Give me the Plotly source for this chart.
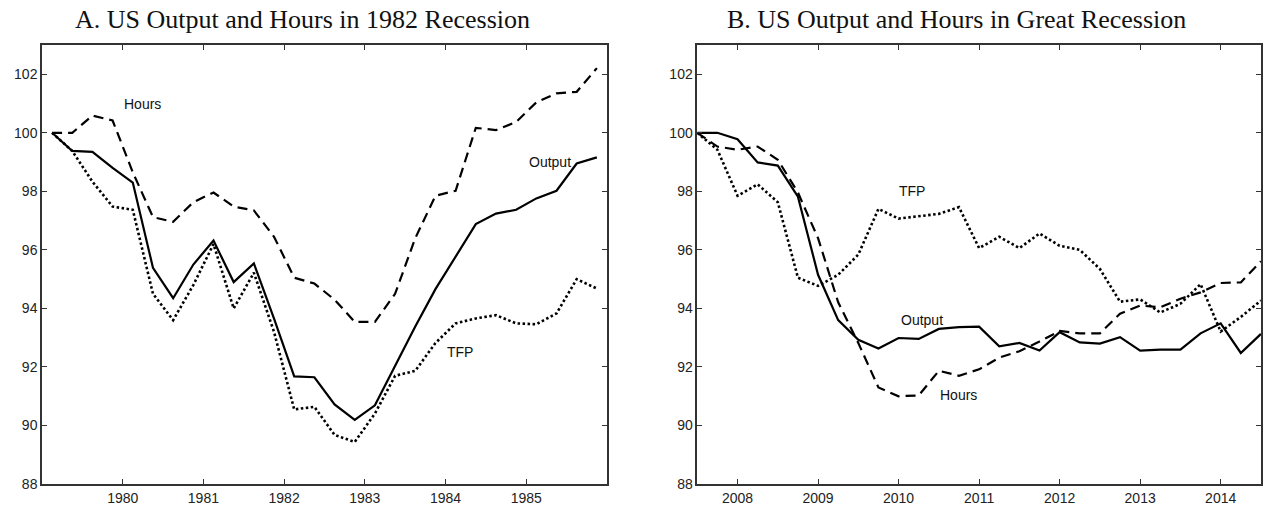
import plotly.graph_objects as go

# ---------------- Panel A: 1982 recession (quarterly) ----------------
dates_a = [1979.125, 1979.375, 1979.625, 1979.875, 1980.125, 1980.375, 1980.625,
           1980.875, 1981.125, 1981.375, 1981.625, 1981.875, 1982.125, 1982.375,
           1982.625, 1982.875, 1983.125, 1983.375, 1983.625, 1983.875, 1984.125,
           1984.375, 1984.625, 1984.875, 1985.125, 1985.375, 1985.625, 1985.875]
output_a = [100.0, 99.38, 99.35, 98.8, 98.3, 95.39, 94.35, 95.5, 96.32, 94.9,
            95.54, 93.65, 91.68, 91.65, 90.72, 90.19, 90.69, 92.05, 93.38, 94.66,
            95.77, 96.88, 97.24, 97.37, 97.76, 98.02, 98.95, 99.16]
hours_a = [100.0, 100.0, 100.59, 100.42, 98.65, 97.12, 96.96, 97.63, 97.96, 97.48,
           97.35, 96.45, 95.05, 94.85, 94.3, 93.54, 93.54, 94.5, 96.4, 97.85,
           98.02, 100.17, 100.09, 100.37, 101.04, 101.35, 101.4, 102.21]
tfp_a = [100.0, 99.38, 98.33, 97.48, 97.37, 94.5, 93.6, 94.8, 96.2, 94.0,
         95.22, 93.2, 90.55, 90.64, 89.68, 89.44, 90.41, 91.7, 91.87, 92.82,
         93.49, 93.66, 93.77, 93.49, 93.46, 93.83, 95.0, 94.68]

# ---------------- Panel B: Great Recession (quarterly) ----------------
dates_b = [2007.5, 2007.75, 2008.0, 2008.25, 2008.5, 2008.75, 2009.0, 2009.25,
           2009.5, 2009.75, 2010.0, 2010.25, 2010.5, 2010.75, 2011.0, 2011.25,
           2011.5, 2011.75, 2012.0, 2012.25, 2012.5, 2012.75, 2013.0, 2013.25,
           2013.5, 2013.75, 2014.0, 2014.25, 2014.5]
output_b = [100.0, 100.0, 99.78, 98.99, 98.88, 97.82, 95.15, 93.6, 92.93, 92.63,
            92.99, 92.96, 93.3, 93.36, 93.38, 92.71, 92.82, 92.56, 93.19, 92.84,
            92.8, 93.02, 92.56, 92.59, 92.59, 93.15, 93.49, 92.48, 93.13]
hours_b = [100.0, 99.53, 99.42, 99.53, 99.08, 97.96, 96.4, 94.21, 92.82, 91.3,
           91.0, 91.03, 91.87, 91.7, 91.92, 92.32, 92.54, 92.87, 93.23, 93.15,
           93.15, 93.82, 94.1, 94.04, 94.33, 94.55, 94.87, 94.89, 95.61]
tfp_b = [100.0, 99.42, 97.85, 98.24, 97.63, 95.05, 94.77, 95.15, 95.84, 97.4,
         97.07, 97.16, 97.23, 97.46, 96.06, 96.45, 96.06, 96.56, 96.14, 96.0,
         95.35, 94.23, 94.31, 93.86, 94.16, 94.83, 93.21, 93.71, 94.27]

years_a = [1980, 1981, 1982, 1983, 1984, 1985]
years_b = [2008, 2009, 2010, 2011, 2012, 2013, 2014]
y_ticks = [88, 90, 92, 94, 96, 98, 100, 102]

title_a = "A. US Output and Hours in 1982 Recession"
title_b = "B. US Output and Hours in Great Recession"

SOLID = dict(color="black", width=2.2)
DASH = dict(color="black", width=2.2, dash="10px,6px")
DOT = dict(color="black", width=2.6, dash="2.5px,2.5px")

fig = go.Figure()
for name, ys, ln in [("Output", output_a, SOLID), ("Hours", hours_a, DASH), ("TFP", tfp_a, DOT)]:
    fig.add_trace(go.Scatter(x=dates_a, y=ys, mode="lines", line=ln, name=name,
                             xaxis="x", yaxis="y", showlegend=False))
for name, ys, ln in [("Output", output_b, SOLID), ("Hours", hours_b, DASH), ("TFP", tfp_b, DOT)]:
    fig.add_trace(go.Scatter(x=dates_b, y=ys, mode="lines", line=ln, name=name,
                             xaxis="x2", yaxis="y2", showlegend=False))

AX_COLOR = "#333333"
TICK_FONT = dict(family="Liberation Sans, Arial, sans-serif", size=14, color="#222222")
common_x = dict(showgrid=False, zeroline=False, showline=True, linecolor=AX_COLOR,
                linewidth=1.5, mirror="ticks", ticks="inside", ticklen=5,
                tickwidth=1.3, tickcolor=AX_COLOR, tickfont=TICK_FONT)
common_y = dict(common_x, range=[88, 103], tickvals=y_ticks,
                ticktext=[str(v) for v in y_ticks])

A_DOM = [0.0332, 0.4798]
B_DOM = [0.5512, 0.9968]
Y_DOM = [0.0508, 0.9118]

fig.update_layout(
    width=1265, height=518,
    margin=dict(l=0, r=0, t=0, b=0),
    paper_bgcolor="white", plot_bgcolor="white",
    xaxis=dict(common_x, domain=A_DOM, range=[1979, 1986], tickvals=years_a,
               ticktext=[str(v) for v in years_a], anchor="y"),
    yaxis=dict(common_y, domain=Y_DOM, anchor="x"),
    xaxis2=dict(common_x, domain=B_DOM, range=[2007.5, 2014.5], tickvals=years_b,
                ticktext=[str(v) for v in years_b], anchor="y2"),
    yaxis2=dict(common_y, domain=Y_DOM, anchor="x2"),
)

LABEL_FONT = dict(family="Liberation Sans, Arial, sans-serif", size=14, color="#111111")
labels = [
    ("x", "y", 1980.25, 101.0, "Hours"),
    ("x", "y", 1985.29, 99.0, "Output"),
    ("x", "y", 1984.18, 92.5, "TFP"),
    ("x2", "y2", 2010.17, 98.0, "TFP"),
    ("x2", "y2", 2010.29, 93.6, "Output"),
    ("x2", "y2", 2010.75, 91.06, "Hours"),
]
for xr, yr, xv, yv, txt in labels:
    fig.add_annotation(x=xv, y=yv, xref=xr, yref=yr, text=txt, showarrow=False,
                       font=LABEL_FONT, xanchor="center", yanchor="middle")

TITLE_FONT = dict(family="Liberation Serif, Times New Roman, serif", size=26, color="#111111")
for x0, txt in [(0.0577, title_a), (0.573, title_b)]:
    fig.add_annotation(x=x0, y=0.962, xref="paper", yref="paper",
                       text=txt, showarrow=False, font=TITLE_FONT,
                       xanchor="left", yanchor="middle")

fig.write_html("out.html", config={"displayModeBar": False},
               post_script="document.body.style.margin='0px';document.body.style.overflow='hidden';")
